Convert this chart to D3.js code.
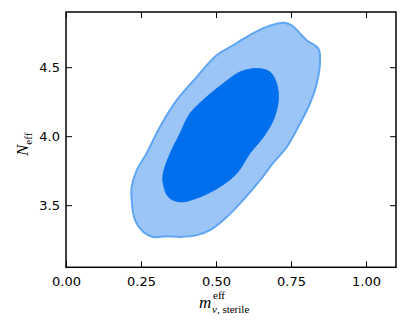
<!DOCTYPE html>
<html>
<head>
<meta charset="utf-8">
<script src="https://cdn.jsdelivr.net/npm/d3@7"></script>
<style>
  body { margin: 0; background: #fff; }
  svg { display: block; }
</style>
</head>
<body>
<div id="chart"></div>
<script>
// contour points (m_eff, N_eff)
const outerX = [0.730, 0.752, 0.802, 0.841, 0.847, 0.836, 0.813, 0.780, 0.736, 0.690, 0.647, 0.590, 0.536, 0.480, 0.436, 0.380, 0.336, 0.290, 0.257, 0.230, 0.219, 0.219, 0.236, 0.269, 0.313, 0.369, 0.436, 0.502, 0.557, 0.613, 0.669];
const outerY = [4.821, 4.804, 4.696, 4.636, 4.563, 4.382, 4.237, 4.092, 3.922, 3.804, 3.681, 3.536, 3.415, 3.319, 3.283, 3.270, 3.275, 3.270, 3.307, 3.391, 3.536, 3.633, 3.754, 3.877, 4.067, 4.261, 4.430, 4.587, 4.659, 4.732, 4.792];
const innerX = [0.636, 0.680, 0.702, 0.708, 0.691, 0.658, 0.613, 0.569, 0.513, 0.447, 0.380, 0.341, 0.324, 0.324, 0.347, 0.380, 0.413, 0.469, 0.524, 0.580];
const innerY = [4.491, 4.466, 4.382, 4.261, 4.116, 3.995, 3.875, 3.730, 3.633, 3.560, 3.524, 3.560, 3.657, 3.730, 3.875, 4.020, 4.164, 4.285, 4.382, 4.466];
const xTicks = [0, 0.25, 0.5, 0.75, 1.0];
const yTicks = [3.5, 4.0, 4.5];

const width = 408, height = 327;
const margin = { top: 12, right: 12, bottom: 60, left: 66 };

const svg = d3.select('#chart')
  .append('svg')
  .attr('width', width)
  .attr('height', height);

const x = d3.scaleLinear().domain([0, 1.1]).range([margin.left, width - margin.right]);
const y = d3.scaleLinear().domain([3.05, 4.9]).range([height - margin.bottom + 0.3, margin.top]);

const line = d3.line()
  .x(d => x(d[0]))
  .y(d => y(d[1]))
  .curve(d3.curveCatmullRomClosed.alpha(0.5));

const outer = outerX.map((v, i) => [v, outerY[i]]);
const inner = innerX.map((v, i) => [v, innerY[i]]);

svg.append('path')
  .attr('d', line(outer))
  .attr('fill', '#9cc5f7')
  .attr('stroke', '#5fa5f3')
  .attr('stroke-width', 2);

svg.append('path')
  .attr('d', line(inner))
  .attr('fill', '#006fed')
  .attr('stroke', '#006fed')
  .attr('stroke-width', 0.8);

// axes, ticks pointing inward on all four sides
const fmtX = d3.format('.2f');
const fmtY = d3.format('.1f');

const axBottom = svg.append('g')
  .attr('transform', `translate(0,${y.range()[0]})`)
  .call(d3.axisBottom(x).tickValues(xTicks).tickSize(-6).tickSizeOuter(0).tickPadding(9).tickFormat(fmtX));

const axTop = svg.append('g')
  .attr('transform', `translate(0,${margin.top})`)
  .call(d3.axisTop(x).tickValues(xTicks).tickSize(-6).tickSizeOuter(0).tickFormat(''));

const axLeft = svg.append('g')
  .attr('transform', `translate(${margin.left},0)`)
  .call(d3.axisLeft(y).tickValues(yTicks).tickSize(-6).tickSizeOuter(0).tickPadding(6).tickFormat(fmtY));

const axRight = svg.append('g')
  .attr('transform', `translate(${x.range()[1]},0)`)
  .call(d3.axisRight(y).tickValues(yTicks).tickSize(-6).tickSizeOuter(0).tickFormat(''));

[axBottom, axTop, axLeft, axRight].forEach(g => {
  g.select('.domain').remove();
  g.selectAll('.tick line').attr('stroke', '#000').attr('stroke-width', 1);
  g.selectAll('text')
    .style('font-family', '"DejaVu Sans", sans-serif')
    .style('font-size', '13px')
    .attr('fill', '#000');
});

svg.append('rect')
  .attr('x', x.range()[0])
  .attr('y', y.range()[1])
  .attr('width', x.range()[1] - x.range()[0])
  .attr('height', y.range()[0] - y.range()[1])
  .attr('fill', 'none')
  .attr('stroke', '#000')
  .attr('stroke-width', 1.5);

// axis labels
const serif = '"Liberation Serif", "DejaVu Serif", serif';

const xl = svg.append('g').attr('transform', 'translate(199,308)');
xl.append('text')
  .style('font-family', serif).style('font-style', 'italic').style('font-size', '17px')
  .text('m');
xl.append('text')
  .attr('x', 14).attr('y', -9)
  .style('font-family', serif).style('font-size', '11px')
  .text('eff');
xl.append('text')
  .attr('x', 13).attr('y', 5)
  .style('font-family', serif).style('font-size', '11px')
  .html('<tspan font-style="italic">ν</tspan>, sterile');

const yl = svg.append('text')
  .attr('transform', 'translate(28,156) rotate(-90)')
  .style('font-family', serif).style('font-size', '17px');
yl.append('tspan').style('font-style', 'italic').text('N');
yl.append('tspan').attr('dy', 4).style('font-size', '11px').text('eff');
</script>
</body>
</html>
